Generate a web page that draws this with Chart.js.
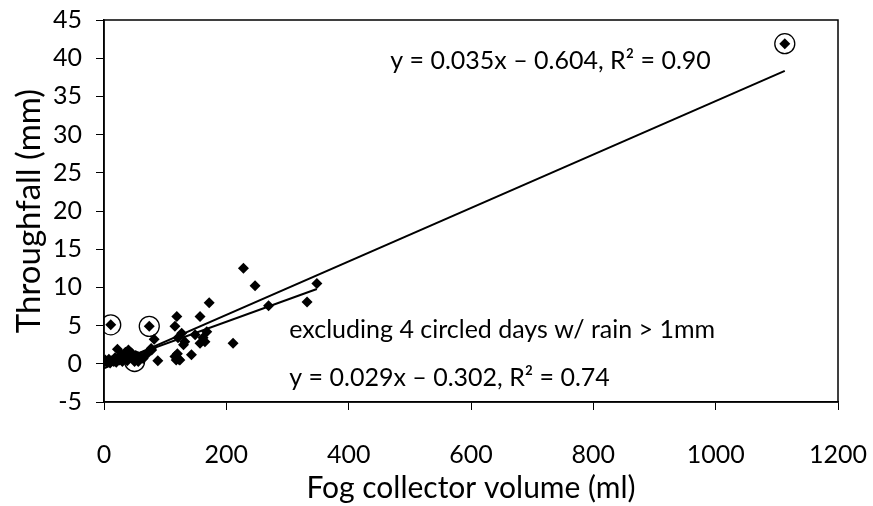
<!DOCTYPE html>
<html>
<head>
<meta charset="utf-8">
<script src="https://cdn.jsdelivr.net/npm/chart.js@4/dist/chart.umd.min.js"></script>
<style>
  html, body { margin: 0; padding: 0; background: #fff; }
  #wrap { width: 873px; height: 506px; }
</style>
</head>
<body>
<div id="wrap"><canvas id="fogChart"></canvas></div>
<script>
// fog collector volume (ml) vs throughfall (mm), one pair per day
const fogVolume = [2, 5, 8, 10, 13, 16, 18, 20, 22, 25, 28, 30, 32, 35, 38, 40, 42, 45, 48, 52,
  56, 60, 64, 69, 77, 78, 82, 88, 116, 118, 120, 122, 124, 119, 116, 121, 127, 130, 132, 143,
  149, 157, 157, 162, 165, 168, 172, 211, 228, 247, 269, 332, 348, 11, 50, 74, 1113];
const throughfall = [0.5, 0.2, 0.6, 0.1, 0.4, 0.3, 0.8, 0.2, 1.9, 0.5, 1.2, 0.3, 0.8, 1.5, 0.4, 1.8, 1.0, 1.4, 0.6, 1.1,
  0.3, 0.9, 0.7, 1.2, 2.0, 1.8, 3.2, 0.4, 0.95, 0.5, 1.3, 0.6, 0.5, 6.2, 4.9, 3.4, 4.0, 2.5, 2.9, 1.2,
  3.8, 6.2, 2.7, 3.4, 2.9, 4.2, 8.0, 2.7, 12.5, 10.2, 7.6, 8.1, 10.5, 5.1, 0.3, 4.9, 41.9];

// days with rain > 1mm (circled)
const circledVolume = [11, 50, 74, 1113];
const circledThroughfall = [5.1, 0.3, 4.9, 41.9];

// linear fits as printed on the chart
const fitAllSlope = 0.035, fitAllIntercept = -0.604, fitAllRange = [0, 1113];
const fitExclSlope = 0.029, fitExclIntercept = -0.302, fitExclRange = [0, 348];

const fitAllLabel = 'y = 0.035x \u2013 0.604, R\u00B2 = 0.90';
const fitExclNote = 'excluding 4 circled days w/ rain > 1mm';
const fitExclLabel = 'y = 0.029x \u2013 0.302, R\u00B2 = 0.74';

const xTitle = 'Fog collector volume (ml)';
const yTitle = 'Throughfall (mm)';

const FONT = 'Lato';

const points = fogVolume.map((v, i) => ({ x: v, y: throughfall[i] }));
const circles = circledVolume.map((v, i) => ({ x: v, y: circledThroughfall[i] }));
const lineAll = fitAllRange.map(x => ({ x: x, y: fitAllSlope * x + fitAllIntercept }));
const lineExcl = fitExclRange.map(x => ({ x: x, y: fitExclSlope * x + fitExclIntercept }));

// box round the plot area + the text notes
const extras = {
  id: 'extras',
  afterDatasetsDraw(chart) {
    const { ctx, chartArea: a, scales } = chart;
    ctx.save();
    ctx.strokeStyle = '#000';
    ctx.lineWidth = 1.5;
    ctx.strokeRect(a.left, a.top, a.right - a.left, a.bottom - a.top);

    ctx.fillStyle = '#000';
    ctx.font = '25px ' + FONT;
    ctx.textBaseline = 'middle';
    ctx.textAlign = 'left';
    ctx.fillText(fitAllLabel, scales.x.getPixelForValue(468), scales.y.getPixelForValue(39.7));
    ctx.fillText(fitExclNote, scales.x.getPixelForValue(303), scales.y.getPixelForValue(4.4));
    ctx.fillText(fitExclLabel, scales.x.getPixelForValue(303), scales.y.getPixelForValue(-1.9));
    ctx.restore();
  }
};

new Chart(document.getElementById('fogChart'), {
  type: 'scatter',
  data: {
    datasets: [
      {
        label: 'fit all',
        type: 'line',
        data: lineAll,
        borderColor: '#000',
        borderWidth: 2,
        pointRadius: 0,
        fill: false
      },
      {
        label: 'fit excluding',
        type: 'line',
        data: lineExcl,
        borderColor: '#000',
        borderWidth: 2,
        pointRadius: 0,
        fill: false
      },
      {
        label: 'days',
        data: points,
        pointStyle: 'rectRot',
        pointRadius: 5.5,
        backgroundColor: '#000',
        borderColor: '#000',
        borderWidth: 0
      },
      {
        label: 'rain > 1mm',
        data: circles,
        pointStyle: 'circle',
        pointRadius: 10,
        backgroundColor: 'rgba(0,0,0,0)',
        borderColor: '#000',
        borderWidth: 1.3
      }
    ]
  },
  options: {
    responsive: true,
    maintainAspectRatio: false,
    animation: false,
    layout: { padding: { top: 20, right: 35, left: 0, bottom: 0 } },
    plugins: {
      legend: { display: false },
      tooltip: { enabled: false }
    },
    scales: {
      x: {
        type: 'linear',
        min: 0,
        max: 1200,
        afterFit: s => { s.height = 104; s.paddingLeft = 0; s.paddingRight = 0; },
        ticks: {
          stepSize: 200, padding: 30, color: '#000', font: { family: FONT, size: 25 },
          callback: v => String(v)
        },
        grid: { drawOnChartArea: false, drawTicks: true, tickLength: 8, color: '#000', lineWidth: 1 },
        border: { color: '#000', width: 1.5 },
        title: { display: true, text: xTitle, color: '#000', font: { family: FONT, size: 30 }, padding: { top: 0, bottom: 0 } }
      },
      y: {
        type: 'linear',
        min: -5,
        max: 45,
        afterFit: s => { s.width = 104; s.paddingTop = 0; s.paddingBottom = 0; },
        ticks: {
          stepSize: 5, padding: 14, color: '#000', font: { family: FONT, size: 25 },
          callback: v => String(v)
        },
        grid: { drawOnChartArea: false, drawTicks: true, tickLength: 8, color: '#000', lineWidth: 1 },
        border: { color: '#000', width: 1.5 },
        title: { display: true, text: yTitle, color: '#000', font: { family: FONT, size: 33 }, padding: { top: 10, bottom: 0 } }
      }
    }
  },
  plugins: [extras]
});
</script>
</body>
</html>
